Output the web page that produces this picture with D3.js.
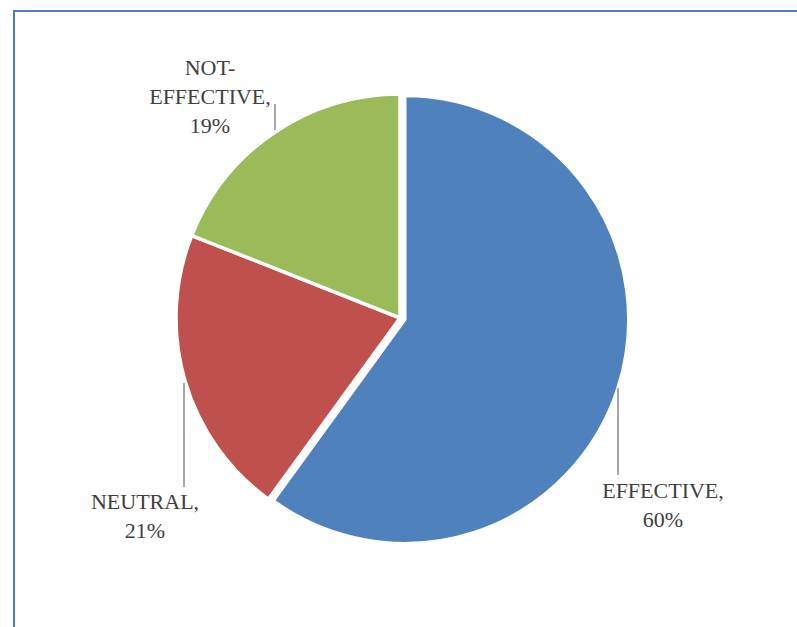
<!DOCTYPE html>
<html>
<head>
<meta charset="utf-8">
<script src="https://cdn.jsdelivr.net/npm/d3@7"></script>
<style>
  html, body { margin: 0; padding: 0; background: #ffffff; }
  svg { display: block; }
</style>
</head>
<body>
<svg id="chart" width="797" height="627"></svg>
<script>
// Survey responses on effectiveness
const categories = ["EFFECTIVE", "NEUTRAL", "NOT-EFFECTIVE"];
const values = [60, 21, 19];
const colors = ["#4f81bd", "#c0504d", "#9bbb59"];

const svg = d3.select("#chart");
const W = 797, H = 627;

// Chart frame (right and bottom edges run past the viewport)
svg.append("rect")
  .attr("x", 14).attr("y", 11)
  .attr("width", W + 20).attr("height", H + 20)
  .attr("fill", "#ffffff")
  .attr("stroke", "#4a7ebb")
  .attr("stroke-width", 2);

const cx = 400, cy = 318, radius = 224;
const explode = [5, 0, 0];

const pie = d3.pie().sort(null).value(d => d)
  .startAngle(0).endAngle(2 * Math.PI);
const arcs = pie(values);
const arc = d3.arc().innerRadius(0).outerRadius(radius);

const total = d3.sum(values);

const g = svg.append("g").attr("transform", `translate(${cx},${cy})`);

g.selectAll("path.slice")
  .data(arcs)
  .join("path")
  .attr("class", "slice")
  .attr("d", arc)
  .attr("fill", (d, i) => colors[i])
  .attr("stroke", "#ffffff")
  .attr("stroke-width", 3.5)
  .attr("stroke-linejoin", "miter")
  .attr("transform", (d, i) => {
    const mid = (d.startAngle + d.endAngle) / 2;
    const off = explode[i];
    return `translate(${off * Math.sin(mid)},${-off * Math.cos(mid)})`;
  });

// Data labels: text block centre / first baseline, and leader line
const labelLayout = [
  { x: 663, y: 498, line: [618, 388, 618, 475] },
  { x: 145, y: 509, line: [184, 383, 184, 487] },
  { x: 210, y: 75,  line: [275, 104, 275, 130] }
];

function labelLines(name, value) {
  const pct = Math.round(value / total * 100) + "%";
  const hy = name.indexOf("-");
  if (hy > 0) return [name.slice(0, hy + 1), name.slice(hy + 1) + ",", pct];
  return [name + ",", pct];
}

const lineH = 29;
const labels = svg.append("g");

arcs.forEach((d, i) => {
  const L = labelLayout[i];
  labels.append("line")
    .attr("x1", L.line[0]).attr("y1", L.line[1])
    .attr("x2", L.line[2]).attr("y2", L.line[3])
    .attr("stroke", "#a6a6a6")
    .attr("stroke-width", 2);

  const t = labels.append("text")
    .attr("x", L.x).attr("y", L.y)
    .attr("text-anchor", "middle")
    .attr("font-family", "'Liberation Serif', 'DejaVu Serif', serif")
    .attr("font-size", 22)
    .attr("fill", "#404040");
  labelLines(categories[i], d.value).forEach((s, k) => {
    t.append("tspan")
      .attr("x", L.x)
      .attr("dy", k === 0 ? 0 : lineH)
      .text(s);
  });
});
</script>
</body>
</html>
